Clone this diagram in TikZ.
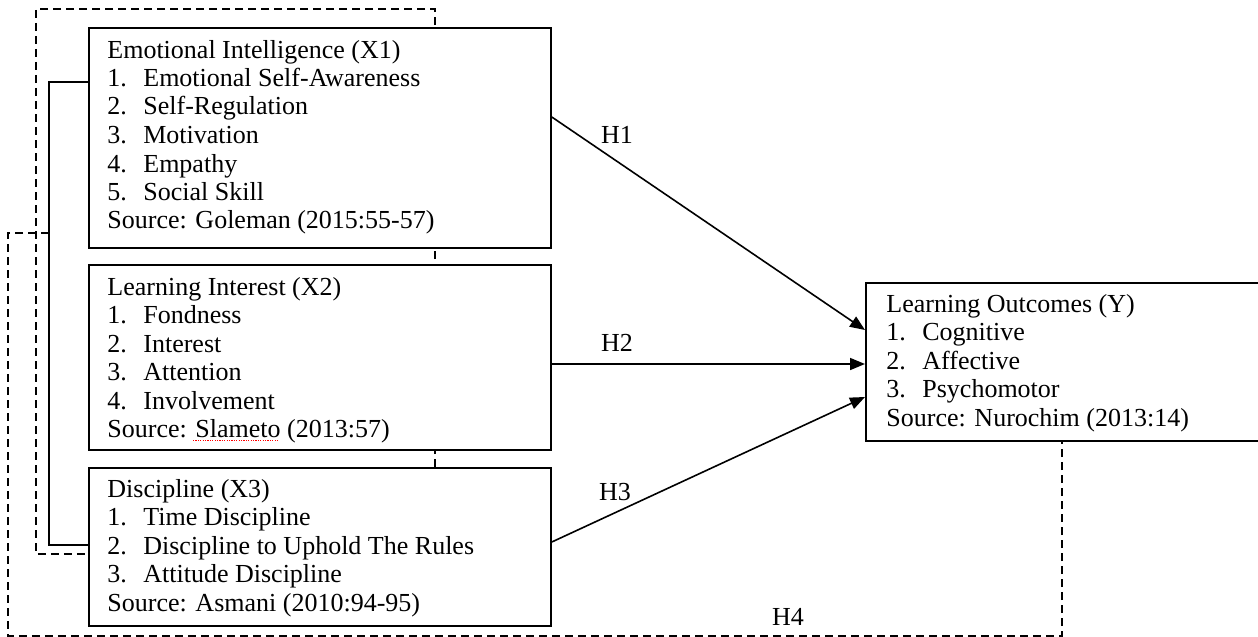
\documentclass[tikz,border=0pt]{standalone}
\usepackage{fontspec}
\setmainfont{Liberation Serif}
\usetikzlibrary{arrows.meta,backgrounds}
\tikzset{
  varbox/.style={draw, line width=0.9pt, fill=white, rectangle, anchor=north west, inner sep=0pt},
  txt/.style={anchor=base west, inner sep=0pt, font=\fontsize{13}{14.25}\selectfont},
  dashline/.style={line width=0.75pt, dash pattern=on 4pt off 2.5pt},
  solidline/.style={line width=0.8pt},
  arr/.style={line width=0.8pt, -{Triangle[length=7.5pt,width=6pt]}},
  hlabel/.style={font=\fontsize{13}{14.25}\selectfont, inner sep=0pt},
  spell/.style={red, line width=0.5pt, dash pattern=on 0.6pt off 0.6pt},
}
\newcommand\itm[2]{\makebox[18pt][l]{#1}#2}
\begin{document}
\begin{tikzpicture}[x=0.5pt,y=-0.5pt]
\clip (0,0) rectangle (1258,637);
% boxes
\node[varbox, minimum width=231pt, minimum height=110pt] (x1) at (88,27) {};
\node[varbox, minimum width=231pt, minimum height=92.5pt] (x2) at (88,264) {};
\node[varbox, minimum width=231pt, minimum height=79pt] (x3) at (88,467) {};
\node[varbox, minimum width=205pt, minimum height=79pt] (y) at (865,282) {};
% texts
\node[txt] (t1) at ([shift={(19,31)}]x1.north west) {\begin{tabular}[t]{@{}l@{}}
Emotional Intelligence (X1)\\
\itm{1.}{Emotional Self-Awareness}\\
\itm{2.}{Self-Regulation}\\
\itm{3.}{Motivation}\\
\itm{4.}{Empathy}\\
\itm{5.}{Social Skill}\\
Source: Goleman (2015:55-57)\end{tabular}};
\node[txt] (t2) at ([shift={(19,31)}]x2.north west) {\begin{tabular}[t]{@{}l@{}}
Learning Interest (X2)\\
\itm{1.}{Fondness}\\
\itm{2.}{Interest}\\
\itm{3.}{Attention}\\
\itm{4.}{Involvement}\\
Source: Slameto (2013:57)\end{tabular}};
\node[txt] (t3) at ([shift={(19,30)}]x3.north west) {\begin{tabular}[t]{@{}l@{}}
Discipline (X3)\\
\itm{1.}{Time Discipline}\\
\itm{2.}{Discipline to Uphold The Rules}\\
\itm{3.}{Attitude Discipline}\\
Source: Asmani (2010:94-95)\end{tabular}};
\node[txt] (ty) at ([shift={(21,30)}]y.north west) {\begin{tabular}[t]{@{}l@{}}
Learning Outcomes (Y)\\
\itm{1.}{Cognitive}\\
\itm{2.}{Affective}\\
\itm{3.}{Psychomotor}\\
Source: Nurochim (2013:14)\end{tabular}};
% spell-check underline under Slameto
\draw[spell] ([shift={(86,145)}]t2.base west) -- ++(86,0);
% arrows
\draw[arr] ([shift={(0,90)}]x1.north east) -- ([shift={(0,48)}]y.north west);
\draw[arr] ([shift={(0,100)}]x2.north east) -- ([shift={(0,82)}]y.north west);
\draw[arr] ([shift={(0,75)}]x3.north east) -- ([shift={(0,115)}]y.north west);
% labels
\node[hlabel] (h1) at (617,135) {H1};
\node[hlabel] (h2) at (617,343) {H2};
\node[hlabel] (h3) at (615,492) {H3};
\node[hlabel] (h4) at (788,617) {H4};
% connectors
\coordinate (dtop) at (36,9);
\coordinate (h4s) at (49,233);
\coordinate (c1) at (8,233);
\coordinate (c2) at (8,636);
\begin{scope}[on background layer]
\fill[white] (0,0) rectangle (1258,637);
\draw[dashline] ([xshift=173.5pt]x3.north west) |- (dtop) |- ([yshift=-43.5pt]x3.north west);
\end{scope}
\draw[solidline] ([yshift=-27.5pt]x1.north west) -- ++(-39,0) |- ([yshift=-39pt]x3.north west);
\draw[dashline] (h4s) -- (c1) -- (c2) -| ([xshift=98.5pt]y.south west);
\end{tikzpicture}
\end{document}
